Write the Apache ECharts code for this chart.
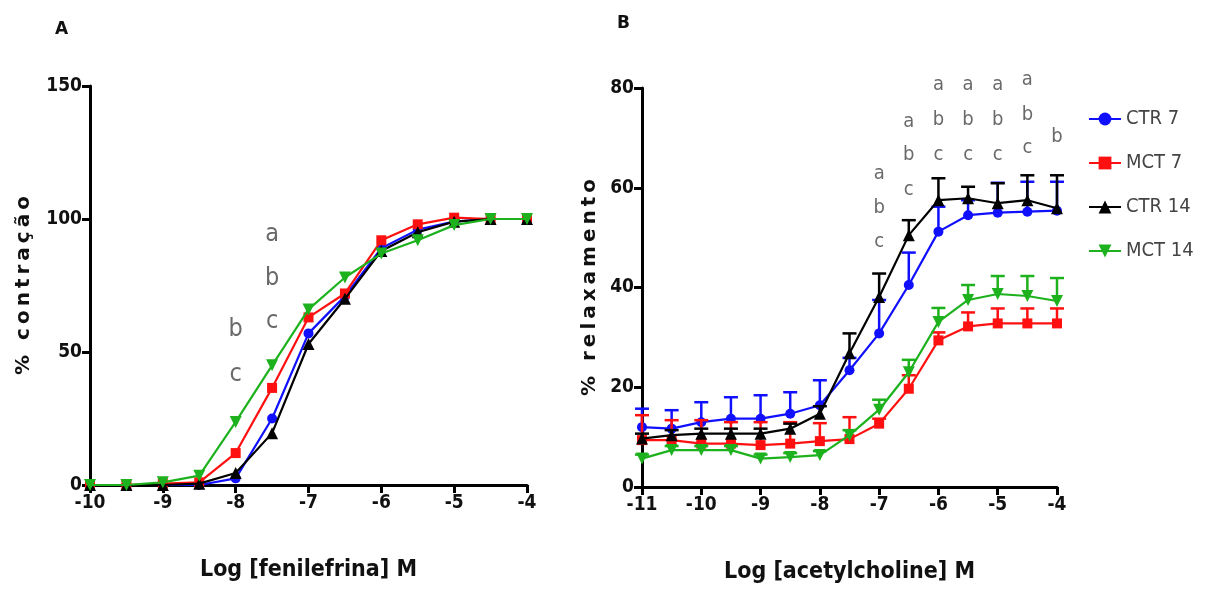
<!DOCTYPE html>
<html><head><meta charset="utf-8">
<script src="https://cdn.jsdelivr.net/npm/echarts@6/dist/echarts.min.js"></script>
<style>html,body{margin:0;padding:0;background:#fff}#c{width:1219px;height:590px}</style>
</head><body><div id="c"></div>
<script>
// ---------- DATA ----------
const seriesNames = ['CTR 7', 'MCT 7', 'CTR 14', 'MCT 14'];
const dosesA = [-10, -9.5, -9, -8.5, -8, -7.5, -7, -6.5, -6, -5.5, -5, -4.5, -4];
const ctr7A  = [0, 0, 0, 0, 2.5, 25, 57, 71, 89, 96, 99, 100, 100];
const mct7A  = [0, 0, 0.5, 1, 12, 36.5, 63, 72, 92, 98, 100.5, 100, 100];
const ctr14A = [0, 0, 0, 0.5, 4.5, 19.5, 53, 70, 88, 95, 99, 100, 100];
const mct14A = [0, 0, 1, 3.5, 23.7, 45, 66, 78, 87, 92, 97.7, 100, 100];

const dosesB = [-11, -10.5, -10, -9.5, -9, -8.5, -8, -7.5, -7, -6.5, -6, -5.5, -5, -4.5, -4];
const ctr7B  = [12, 11.7, 13, 13.7, 13.7, 14.7, 16.4, 23.4, 30.8, 40.5, 51.2, 54.5, 55, 55.2, 55.4];
const mct7B  = [9.4, 9.4, 8.7, 8.7, 8.4, 8.7, 9.2, 9.6, 12.7, 19.7, 29.4, 32.2, 32.8, 32.8, 32.8];
const ctr14B = [9.7, 10.4, 10.7, 10.7, 10.7, 11.7, 14.7, 26.8, 38.1, 50.5, 57.5, 57.9, 56.9, 57.5, 55.9];
const mct14B = [5.7, 7.4, 7.4, 7.4, 5.7, 6, 6.4, 10.4, 15.5, 23, 33.1, 37.5, 38.7, 38.3, 37.3];
const ctr7Err  = [3.7, 3.7, 4, 4.3, 4.7, 4.3, 5, 2.5, 6.7, 6.5, 5, 3, 6, 6, 5.8];
const mct7Err  = [5, 4, 4.7, 4.3, 4.6, 4.3, 3.6, 4.4, 1, 2.7, 1.6, 2.8, 3, 3, 3];
const ctr14Err = [1, 1, 1, 1, 1, 1, 1.5, 4, 4.7, 3, 4.4, 2.3, 4, 5, 6.6];
const mct14Err = [0.8, 0.8, 0.8, 0.8, 0.8, 0.8, 0.8, 1, 2, 2.5, 2.8, 3, 3.6, 4, 4.6];

// significance letters: [dose, value, letter]
const lettersA = [[-8, 58.3, 'b'], [-8, 41.4, 'c'], [-7.5, 94, 'a'], [-7.5, 77.8, 'b'], [-7.5, 61.3, 'c']];
const lettersB = [
  [-7, 62.7, 'a'], [-7, 56, 'b'], [-7, 49.2, 'c'],
  [-6.5, 73.3, 'a'], [-6.5, 66.7, 'b'], [-6.5, 59.6, 'c'],
  [-6, 80.7, 'a'], [-6, 73.7, 'b'], [-6, 66.7, 'c'],
  [-5.5, 80.7, 'a'], [-5.5, 73.7, 'b'], [-5.5, 66.7, 'c'],
  [-5, 80.7, 'a'], [-5, 73.7, 'b'], [-5, 66.7, 'c'],
  [-4.5, 81.7, 'a'], [-4.5, 74.7, 'b'], [-4.5, 68.1, 'c'],
  [-4, 70.3, 'b']
];
const xNameA = 'Log [fenilefrina] M';
const xNameB = 'Log [acetylcholine] M';
const yNameA = '% contração';
const yNameB = '% relaxamento';

// ---------- STYLE ----------
const colors = ['#1010ff', '#ff1010', '#000000', '#1db21d'];
const symbols = ['circle', 'rect', 'triangle', 'path://M0,0 L10,0 L5,10 Z'];
const NARROW = '"Liberation Sans Narrow","DejaVu Sans Condensed","Roboto Condensed",sans-serif';
const spaced = s => s.split('').join('\u2009');

const chart = echarts.init(document.getElementById('c'), null, {renderer: 'canvas'});

function axisCommon() {
  return {
    axisLine: {show: true, onZero: false, lineStyle: {color: '#000', width: 3}},
    axisTick: {show: true, length: 8, lineStyle: {color: '#000', width: 3}},
    splitLine: {show: false},
    axisLabel: {color: '#111', fontFamily: NARROW, fontWeight: 'bold', fontSize: 19}
  };
}
function pairs(xs, ys) { return xs.map((x, i) => [x, ys[i]]); }
function lineSeries(name, idx, xs, ys, axisIdx) {
  return {
    type: 'line', name: name, xAxisIndex: axisIdx, yAxisIndex: axisIdx,
    data: pairs(xs, ys), symbol: symbols[idx], symbolSize: idx === 2 || idx === 3 ? 12 : 10,
    showSymbol: true, lineStyle: {color: colors[idx], width: 2.2}, itemStyle: {color: colors[idx]},
    z: 3 + idx, clip: false, animation: false
  };
}
function errSeries(idx, xs, ys, es) {
  return {
    type: 'custom', xAxisIndex: 1, yAxisIndex: 1, z: 3 + idx, silent: true, animation: false,
    data: xs.map((x, i) => [x, ys[i], es[i]]),
    renderItem: function (params, api) {
      const p0 = api.coord([api.value(0), api.value(1)]);
      const p1 = api.coord([api.value(0), api.value(1) + api.value(2)]);
      const st = {stroke: colors[idx], lineWidth: 2.5};
      return {type: 'group', children: [
        {type: 'line', shape: {x1: p0[0], y1: p0[1], x2: p1[0], y2: p1[1]}, style: st},
        {type: 'line', shape: {x1: p1[0] - 7, y1: p1[1], x2: p1[0] + 7, y2: p1[1]}, style: st}
      ]};
    }
  };
}
function letterSeries(arr, axisIdx, size) {
  return {
    type: 'scatter', xAxisIndex: axisIdx, yAxisIndex: axisIdx, symbolSize: 0, clip: false, silent: true,
    animation: false, z: 10,
    data: arr.map(d => ({value: [d[0], d[1]], name: d[2]})),
    label: {show: true, position: 'inside', formatter: p => p.name, color: '#444',
      fontFamily: NARROW, fontSize: size}
  };
}

const xA = Object.assign(axisCommon(), {type: 'value', gridIndex: 0, min: -10, max: -4, interval: 1,
  name: xNameA, nameLocation: 'middle', nameGap: 74,
  nameTextStyle: {color: '#111', fontFamily: NARROW, fontWeight: 'bold', fontSize: 23}});
const yA = Object.assign(axisCommon(), {type: 'value', gridIndex: 0, min: 0, max: 150, interval: 50,
  name: spaced(yNameA), nameLocation: 'middle', nameGap: 56, nameRotate: 90,
  nameTextStyle: {color: '#111', fontFamily: '"DejaVu Sans",sans-serif', fontWeight: 'bold', fontSize: 20}});
const xB = Object.assign(axisCommon(), {type: 'value', gridIndex: 1, min: -11, max: -4, interval: 1,
  name: xNameB, nameLocation: 'middle', nameGap: 74,
  nameTextStyle: {color: '#111', fontFamily: NARROW, fontWeight: 'bold', fontSize: 23}});
const yB = Object.assign(axisCommon(), {type: 'value', gridIndex: 1, min: 0, max: 80, interval: 20,
  name: spaced(yNameB), nameLocation: 'middle', nameGap: 42, nameRotate: 90,
  nameTextStyle: {color: '#111', fontFamily: '"DejaVu Sans",sans-serif', fontWeight: 'bold', fontSize: 20}});
[xA, xB].forEach(a => a.axisLabel.margin = 9);
[yA, yB].forEach(a => a.axisLabel.margin = 8);

const option = {
  backgroundColor: '#fff',
  animation: false,
  title: [
    {text: 'A', left: 50, top: 16, textStyle: {fontFamily: '"DejaVu Sans",sans-serif', fontWeight: 'bold', fontSize: 17, color: '#111'}},
    {text: 'B', left: 612, top: 10, textStyle: {fontFamily: '"DejaVu Sans",sans-serif', fontWeight: 'bold', fontSize: 17, color: '#111'}}
  ],
  grid: [
    {left: 90, top: 86, width: 437, height: 399},
    {left: 642, top: 88, width: 415, height: 399}
  ],
  xAxis: [xA, xB],
  yAxis: [yA, yB],
  legend: {
    data: seriesNames, orient: 'vertical', left: 1083, top: 104, itemGap: 24,
    itemWidth: 32, itemHeight: 16,
    textStyle: {color: '#444', fontFamily: NARROW, fontSize: 20}
  },
  series: [
    errSeries(0, dosesB, ctr7B, ctr7Err),
    errSeries(1, dosesB, mct7B, mct7Err),
    errSeries(2, dosesB, ctr14B, ctr14Err),
    errSeries(3, dosesB, mct14B, mct14Err),
    lineSeries(seriesNames[0], 0, dosesB, ctr7B, 1),
    lineSeries(seriesNames[1], 1, dosesB, mct7B, 1),
    lineSeries(seriesNames[2], 2, dosesB, ctr14B, 1),
    lineSeries(seriesNames[3], 3, dosesB, mct14B, 1),
    lineSeries('A0', 0, dosesA, ctr7A, 0),
    lineSeries('A1', 1, dosesA, mct7A, 0),
    lineSeries('A2', 2, dosesA, ctr14A, 0),
    lineSeries('A3', 3, dosesA, mct14A, 0),
    letterSeries(lettersA, 0, 25),
    letterSeries(lettersB, 1, 20)
  ]
};
chart.setOption(option);
</script></body></html>
